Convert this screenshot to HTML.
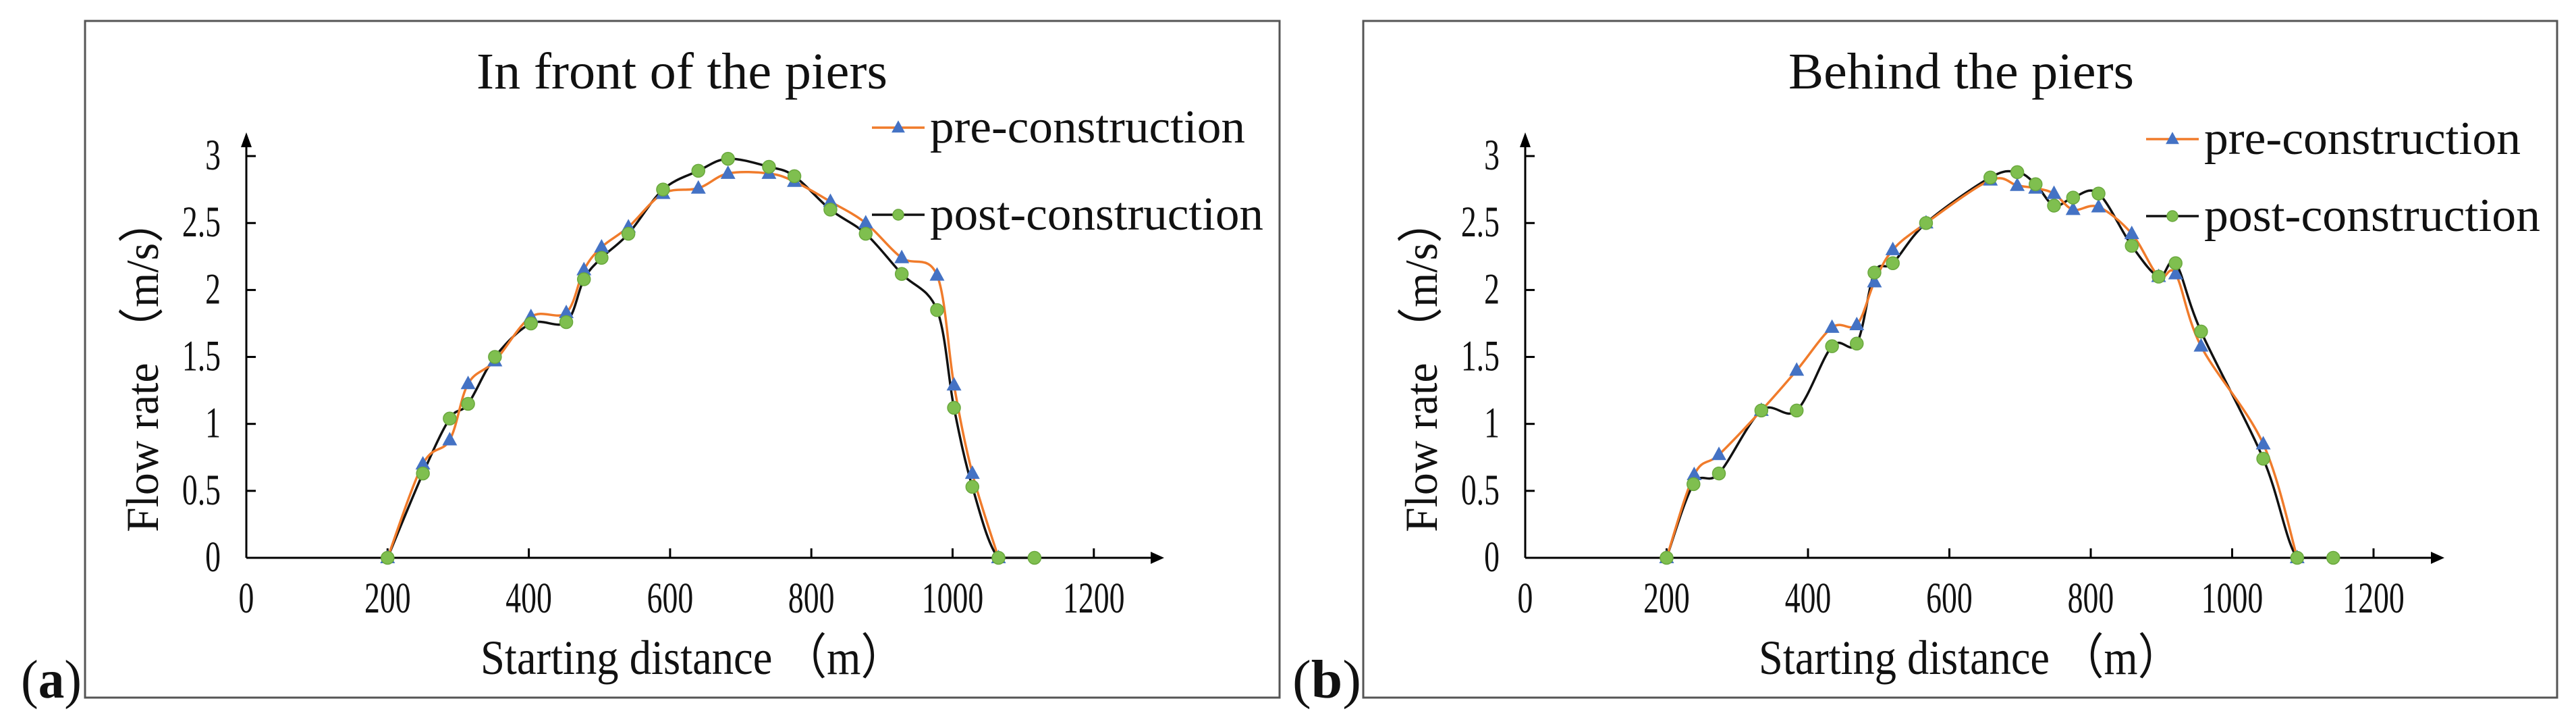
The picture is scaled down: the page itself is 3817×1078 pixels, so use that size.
<!DOCTYPE html>
<html><head><meta charset="utf-8"><style>
html,body{margin:0;padding:0;background:#fff;width:3817px;height:1078px;overflow:hidden}
svg{display:block}
text{font-family:"Liberation Serif",serif;fill:#111}
</style></head><body>
<svg id="fig" width="3817" height="1078" viewBox="0 0 3817 1078" xmlns="http://www.w3.org/2000/svg"></svg>
<script>
const xTicks=[0,200,400,600,800,1000,1200];
const yTicks=[0,0.5,1,1.5,2,2.5,3];
const aPreX=[200,250,288,314,352,403,453,478,503,541,590,640,682,740,776,827,877,928,978,1002,1028,1065];
const aPreY=[0,0.7,0.88,1.3,1.47,1.8,1.83,2.15,2.32,2.47,2.72,2.76,2.87,2.87,2.81,2.66,2.5,2.24,2.11,1.29,0.63,0];
const aPostX=[200,250,288,314,352,403,453,478,503,541,590,640,682,740,776,827,877,928,978,1002,1028,1065,1116];
const aPostY=[0,0.63,1.04,1.15,1.5,1.75,1.76,2.08,2.24,2.42,2.75,2.89,2.98,2.92,2.85,2.6,2.42,2.12,1.85,1.12,0.53,0,0];
const bPreX=[200,239,274,334,384,434,469,494,520,567,658,696,722,748,775,811,858,896,920,956,1044,1092];
const bPreY=[0,0.62,0.77,1.1,1.4,1.72,1.74,2.06,2.3,2.5,2.82,2.78,2.76,2.72,2.6,2.62,2.42,2.1,2.12,1.58,0.85,0];
const bPostX=[200,238,274,334,384,434,469,494,520,567,658,696,722,748,775,811,858,896,920,956,1044,1092,1143];
const bPostY=[0,0.55,0.63,1.1,1.1,1.58,1.6,2.13,2.2,2.5,2.84,2.88,2.79,2.63,2.69,2.72,2.33,2.1,2.2,1.69,0.74,0,0];

const NS="http://www.w3.org/2000/svg";
const svg=document.getElementById('fig');
function mk(tag,attrs,parent,txt){const e=document.createElementNS(NS,tag);for(const k in attrs)e.setAttribute(k,attrs[k]);if(txt!==undefined)e.textContent=txt;(parent||svg).appendChild(e);return e;}
function smooth(pts,ymax){const c=v=>Math.min(v,ymax);let d=`M${pts[0][0]},${pts[0][1]}`;for(let i=0;i<pts.length-1;i++){const p0=pts[Math.max(0,i-1)],p1=pts[i],p2=pts[i+1],p3=pts[Math.min(pts.length-1,i+2)];const t=6;
 if(p1[1]===ymax&&p2[1]===ymax){d+=` L${p2[0]},${p2[1]}`;continue;}
 d+=` C${p1[0]+(p2[0]-p0[0])/t},${c(p1[1]+(p2[1]-p0[1])/t)} ${p2[0]-(p3[0]-p1[0])/t},${c(p2[1]-(p3[1]-p1[1])/t)} ${p2[0]},${p2[1]}`;}return d;}
function tri(g,x,y,s){const p=mk('path',{d:`M${x},${y-s*0.6} L${x+s*0.55},${y+s*0.4} L${x-s*0.55},${y+s*0.4} Z`,fill:'#4472c4'},g);}
function dot(g,x,y,r){const c=mk('circle',{cx:x,cy:y,r:r,fill:'#7fbf4f',stroke:'#6aa83e','stroke-width':1.5},g);}

function panel(o){
  const g=mk('g',{});
  const fr=mk('rect',{x:o.fl,y:31,width:o.fw,height:1002,fill:'none',stroke:'#555','stroke-width':3},g);
  
  const X=v=>o.x0+v*o.sx, Y=v=>826-v*198.3;
  const ax=mk('path',{d:`M${X(0)},${Y(0)} L${o.xEnd-12},${Y(0)} M${X(0)},${Y(0)} L${X(0)},${o.yTop+12}`,stroke:'#000','stroke-width':3,fill:'none'},g);
  
  const ar=mk('path',{d:`M${o.xEnd},${Y(0)} l-20,-9 v18 Z M${X(0)},${o.yTop} l-8,22 h16 Z`,fill:'#000'},g);
  
  xTicks.forEach(v=>{
    if(v>0){const t=mk('line',{x1:X(v),x2:X(v),y1:Y(0),y2:Y(0)-14,stroke:'#000','stroke-width':3},g);}
    const l=mk('text',{x:X(v),y:907,'font-size':52,'text-anchor':'middle'},g,String(v));
    l.setAttribute('transform',`matrix(0.88,0,0,1.25,${X(v)*0.12},${-907*0.25})`);
    
  });
  yTicks.forEach(v=>{
    if(v>0){const t=mk('line',{x1:X(0),x2:X(0)+14,y1:Y(v),y2:Y(v),stroke:'#000','stroke-width':3},g);}
    const by=Y(v)+20;
    const l=mk('text',{x:o.x0-38,y:by,'font-size':52,'text-anchor':'end',transform:`matrix(0.88,0,0,1.25,${(o.x0-38)*0.12},${-by*0.25})`},g,String(v));
    
  });
  const yt=mk('text',{x:0,y:0,'font-size':68,'text-anchor':'middle',textLength:494,lengthAdjust:'spacingAndGlyphs',transform:`translate(${o.x0-153},541) rotate(-90)`},g,'Flow rate （m/s）');
  yt.setAttribute('dy','22');
  const xt=mk('text',{x:o.xtx,y:998,'font-size':72,textLength:o.xtw,lengthAdjust:'spacingAndGlyphs'},g,'Starting distance （m）');
  
  const tt=mk('text',{x:o.tx,y:131,'font-size':76,textLength:o.tw,lengthAdjust:'spacingAndGlyphs'},g,o.title);
  
  const pre=o.preX.map((v,i)=>[X(v),Y(o.preY[i])]);
  const post=o.postX.map((v,i)=>[X(v),Y(o.postY[i])]);
  const pl=mk('path',{d:smooth(post,Y(0)),stroke:'#111','stroke-width':3.5,fill:'none'},g);
  const ol=mk('path',{d:smooth(pre,Y(0)),stroke:'#f07b2b','stroke-width':3.5,fill:'none'},g);
  pre.forEach(p=>tri(g,p[0],p[1],20));
  post.forEach(p=>dot(g,p[0],p[1],9.5));
  const lg=mk('g',{},g);
  mk('line',{x1:o.lx,x2:o.lx+78,y1:o.ly1,y2:o.ly1,stroke:'#f07b2b','stroke-width':3.5},lg);
  tri(lg,o.lx+39,o.ly1,18);
  const t1=mk('text',{x:o.lx+86,y:o.ly1+22,'font-size':70,textLength:o.lw1,lengthAdjust:'spacingAndGlyphs'},lg,'pre-construction');
  
  mk('line',{x1:o.lx,x2:o.lx+78,y1:o.ly2,y2:o.ly2,stroke:'#111','stroke-width':3.5},lg);
  dot(lg,o.lx+39,o.ly2,8);
  const t2=mk('text',{x:o.lx+86,y:o.ly2+22,'font-size':70,textLength:o.lw2,lengthAdjust:'spacingAndGlyphs'},lg,'post-construction');
  
  const pl2=mk('text',{x:o.labx,y:1033,'font-size':80,textLength:o.labw,lengthAdjust:'spacingAndGlyphs'},svg,'');
  mk('tspan',{},pl2,'(');mk('tspan',{'font-weight':'bold'},pl2,o.lab);mk('tspan',{},pl2,')');
  
}
panel({name:'panel-a-front',fl:126,fw:1770,x0:365,sx:209.3/200,xEnd:1725,yTop:196,title:'In front of the piers',tx:706,tw:609,xtx:712,xtw:628,
  preX:aPreX,preY:aPreY,postX:aPostX,postY:aPostY,lx:1292,ly1:189,ly2:318,lw1:467,lw2:494,labx:31,labw:90,lab:'a'});
panel({name:'panel-b-behind',fl:2020,fw:1769,x0:2260,sx:209.5/200,xEnd:3622,yTop:196,title:'Behind the piers',tx:2650,tw:512,xtx:2606,xtw:626,
  preX:bPreX,preY:bPreY,postX:bPostX,postY:bPostY,lx:3180,ly1:206,ly2:320,lw1:469,lw2:498,labx:1915,labw:102,lab:'b'});
</script>
</body></html>
